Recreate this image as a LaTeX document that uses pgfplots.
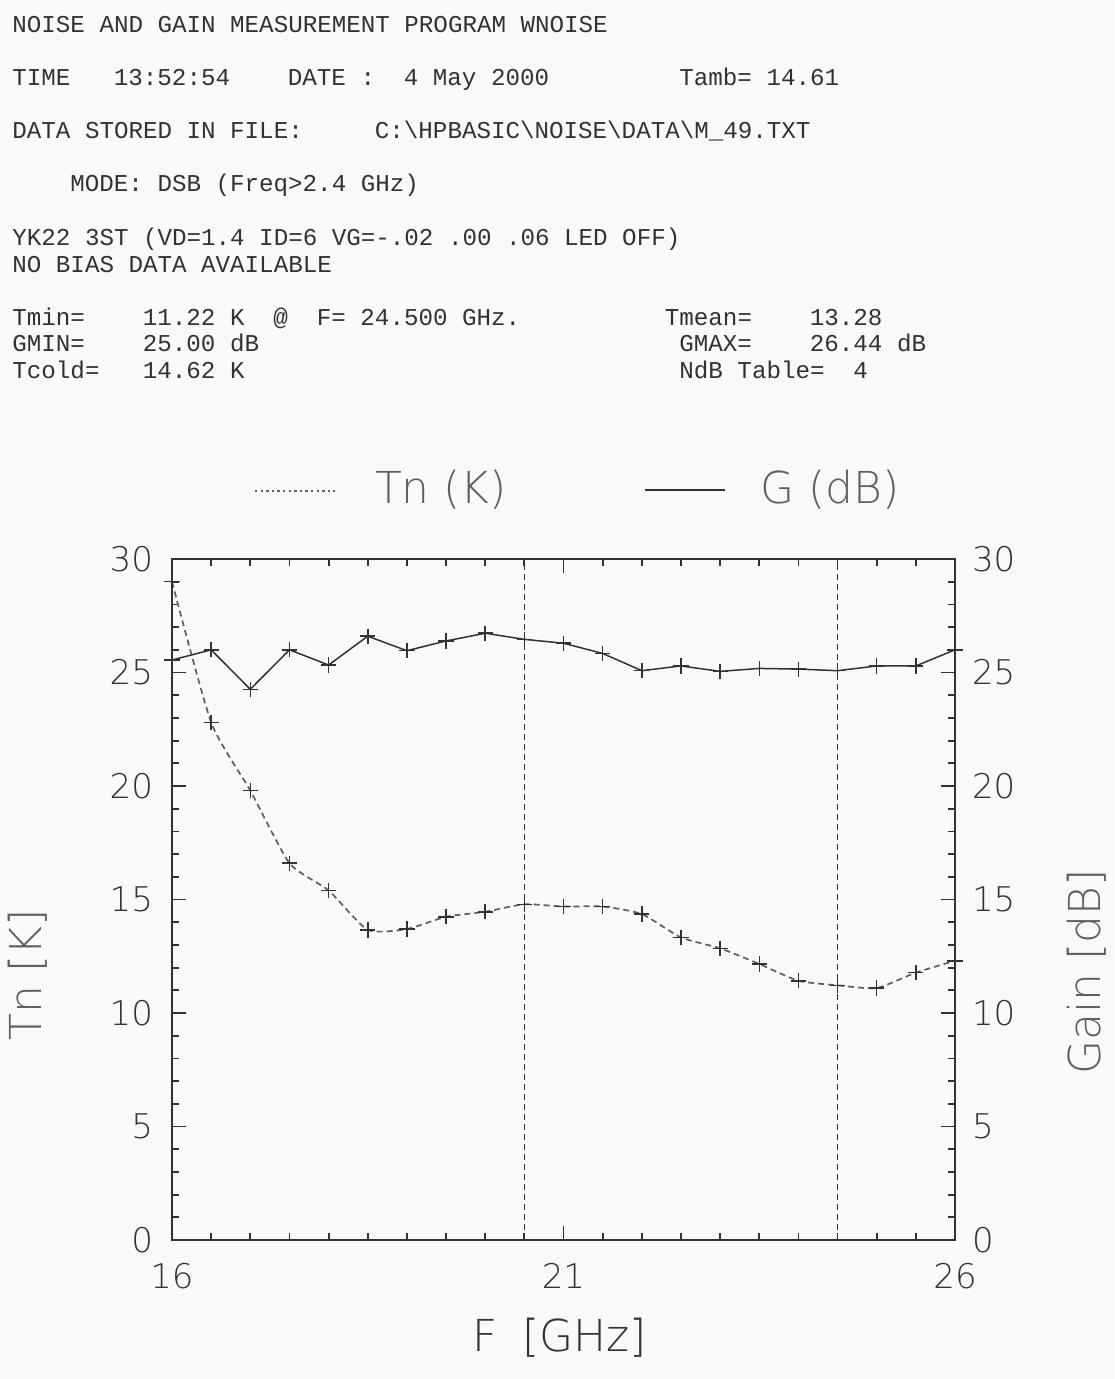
\documentclass[border=0pt]{standalone}
\usepackage{pgfplots}
\pgfplotsset{compat=1.18}
\usepackage{fontspec}
\setmainfont{Liberation Mono}
\newfontfamily\plotfont{DejaVu Sans ExtraLight}
\definecolor{bg}{RGB}{249,249,249}
\definecolor{ink}{RGB}{50,50,50}
\definecolor{lite}{RGB}{95,95,95}
\newcommand\hd[3]{\node[anchor=base west, inner sep=0pt, text=ink, font=\fontsize{12.1}{12}\selectfont] at ({12+#1*14.5},#2) {#3};}

\pgfplotstableread{
f tn g
16.0 29.00 25.55
16.5 22.80 26.00
17.0 19.80 24.26
17.5 16.60 26.00
18.0 15.40 25.33
18.5 13.66 26.60
19.0 13.70 25.96
19.5 14.24 26.39
20.0 14.46 26.73
20.5 14.79 26.46
21.0 14.69 26.29
21.5 14.69 25.84
22.0 14.36 25.08
22.5 13.33 25.29
23.0 12.85 25.05
23.5 12.16 25.18
24.0 11.42 25.15
24.5 11.22 25.08
25.0 11.10 25.29
25.5 11.78 25.29
26.0 12.30 26.00
}\datatab

\begin{document}
\begin{tikzpicture}
\begin{scope}[x=0.5pt,y=-0.5pt]
\fill[bg] (0,0) rectangle (1114,1379);
\path[use as bounding box] (0,0) rectangle (1114,1379);
% header
\hd{0}{33}{NOISE AND GAIN MEASUREMENT PROGRAM WNOISE}
\hd{0}{86}{TIME}
\hd{7}{86}{13:52:54}
\hd{19}{86}{DATE :}
\hd{27}{86}{4 May 2000}
\hd{46}{86}{Tamb= 14.61}
\hd{0}{139}{DATA STORED IN FILE:}
\hd{25}{139}{C:\textbackslash HPBASIC\textbackslash NOISE\textbackslash DATA\textbackslash M\_49.TXT}
\hd{4}{192}{MODE: DSB (Freq>2.4 GHz)}
\hd{0}{246}{YK22 3ST (VD=1.4 ID=6 VG=-.02 .00 .06 LED OFF)}
\hd{0}{273}{NO BIAS DATA AVAILABLE}
\hd{0}{326}{Tmin=}
\hd{9}{326}{11.22 K}
\hd{18}{326}{@}
\hd{21}{326}{F= 24.500 GHz.}
\hd{45}{326}{Tmean=}
\hd{55}{326}{13.28}
\hd{0}{352}{GMIN=}
\hd{9}{352}{25.00 dB}
\hd{46}{352}{GMAX=}
\hd{55}{352}{26.44 dB}
\hd{0}{379}{Tcold=}
\hd{9}{379}{14.62 K}
\hd{46}{379}{NdB Table=}
\hd{58}{379}{4}
% legend
\draw[lite, dash pattern=on 1.2pt off 1.6pt, line width=0.8pt] (255,491) -- (335,491);
\node[text=lite, font=\plotfont\fontsize{22}{22}\selectfont, inner sep=0pt] at (441,490) {Tn (K)};
\draw[ink, line width=0.8pt] (645,490) -- (725,490);
\node[text=lite, font=\plotfont\fontsize{22}{22}\selectfont, inner sep=0pt] at (830,490) {G (dB)};
% axis labels
\node[rotate=90, text=lite, font=\plotfont\fontsize{22}{22}\selectfont, inner sep=0pt] at (28,975) {Tn\hspace{0.3em}[K]};
\node[rotate=90, text=lite, font=\plotfont\fontsize{22}{22}\selectfont, inner sep=0pt] at (1087,972) {Gain\hspace{0.3em}[dB]};
\node[text=ink, font=\plotfont\fontsize{22}{22}\selectfont, inner sep=0pt] at (560,1338) {F\hspace{0.55em}[GHz]};
\end{scope}

\begin{axis}[
  at={(86pt,-620pt)}, anchor=south west, scale only axis,
  width=391.5pt, height=340.5pt,
  xmin=16, xmax=26, ymin=0, ymax=30,
  xtick={16,21,26}, minor xtick={16,16.5,...,26},
  ytick={0,5,...,30}, minor ytick={0,1,...,30},
  tick align=inside,
  major tick length=7pt, minor tick length=3.6pt,
  yticklabel pos=left,
  axis line style={line width=1pt, ink},
  tick style={line width=0.9pt, ink},
  /pgf/number format/assume math mode=true,
  ticklabel style={font=\plotfont\fontsize{17}{17}\selectfont, text=ink},
  xticklabel style={yshift=-8pt},
  yticklabel style={xshift=-6pt},
  clip=false,
]
\addplot[ink, line width=0.7pt, dash pattern=on 3pt off 2pt] coordinates {(20.5,0) (20.5,30)};
\addplot[ink, line width=0.7pt, dash pattern=on 3pt off 2pt] coordinates {(24.5,0) (24.5,30)};
\addplot[lite, line width=0.85pt, dash pattern=on 3pt off 2pt, smooth, tension=0.35, mark=+, mark size=3.8pt, mark options={solid, line width=0.75pt, ink}] table[x=f, y=tn] {\datatab};
\addplot[ink, line width=0.75pt, mark=+, mark size=3.8pt, mark options={line width=0.75pt}] table[x=f, y=g] {\datatab};
\end{axis}

\begin{axis}[
  at={(86pt,-620pt)}, anchor=south west, scale only axis,
  width=391.5pt, height=340.5pt,
  xmin=16, xmax=26, ymin=0, ymax=30,
  hide x axis, axis y line*=right,
  ytick={0,5,...,30},
  ytick style={draw=none},
  axis line style={draw=none},
  /pgf/number format/assume math mode=true,
  ticklabel style={font=\plotfont\fontsize{17}{17}\selectfont, text=ink},
  yticklabel style={xshift=5pt},
]
\addplot[draw=none] coordinates {(16,0)};
\end{axis}
\end{tikzpicture}
\end{document}
